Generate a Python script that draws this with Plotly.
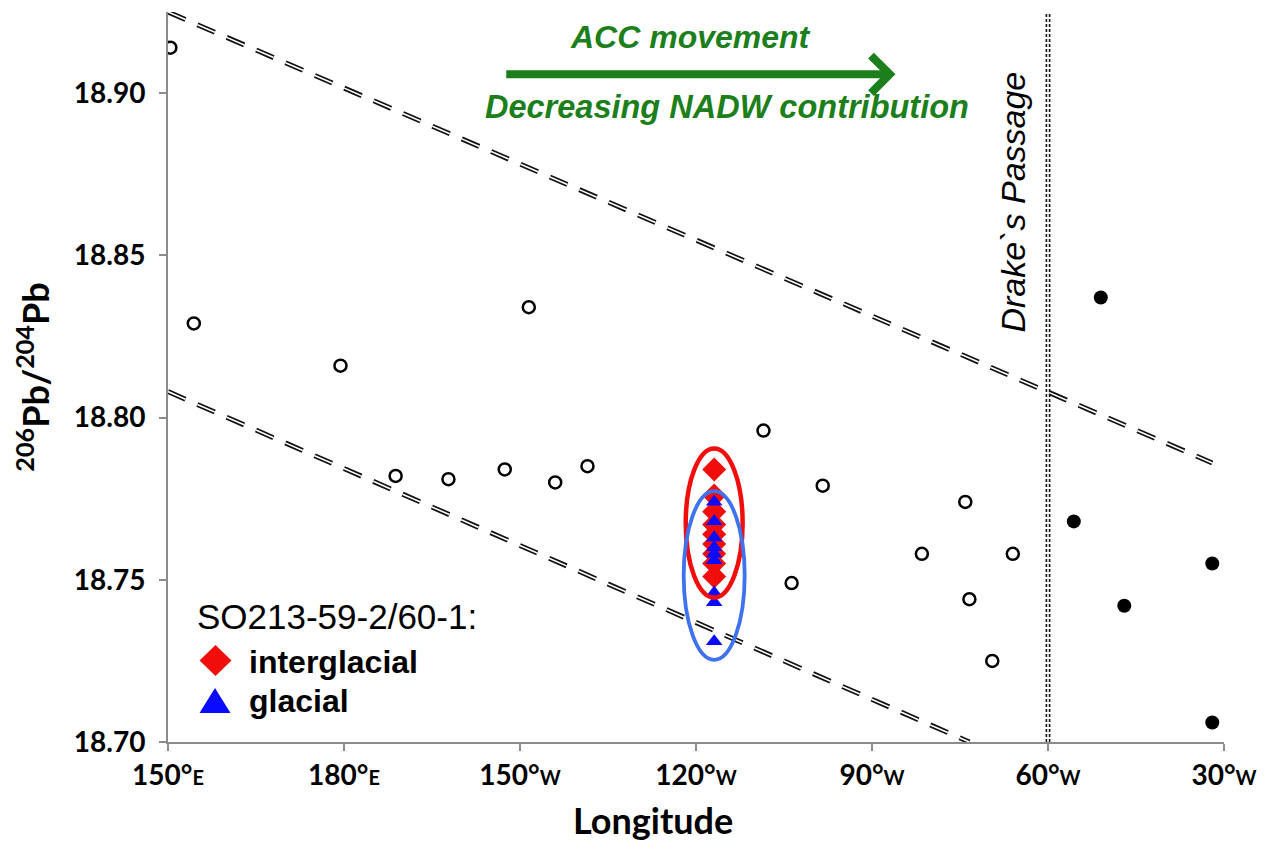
import plotly.graph_objects as go

# --- data -----------------------------------------------------------------
# Longitude as continuous degrees east (150°E = 150, 180° = 180, 30°W = 330)
pacific_lon = [150.4, 154.4, 179.4, 211.5, 188.8, 197.8, 207.4, 216.0, 221.5,
               251.5, 261.6, 256.3, 285.9, 278.5, 294.0, 286.6, 290.5]
pacific_pb = [18.914, 18.829, 18.816, 18.834, 18.782, 18.781, 18.784, 18.780, 18.785,
              18.796, 18.779, 18.749, 18.774, 18.758, 18.758, 18.744, 18.725]

atlantic_lon = [304.4, 328.0, 313.0, 328.0, 309.0]
atlantic_pb = [18.768, 18.755, 18.742, 18.706, 18.837]

core_lon = 243.1  # SO213-59-2 / 60-1 site (~117°W)
interglacial_pb = [18.784, 18.776, 18.771, 18.767, 18.764, 18.761, 18.758, 18.755, 18.751]
glacial_pb = [18.774, 18.768, 18.763, 18.760, 18.758, 18.756, 18.746, 18.743, 18.731]

upper_bound_lon = [150, 328]
upper_bound_pb = [18.925, 18.786]
lower_bound_lon = [150, 286.6]
lower_bound_pb = [18.808, 18.700]

drake_lon = 300

x_tickvals = [150, 180, 210, 240, 270, 300, 330]
x_ticknum = ["150°", "180°", "150°", "120°", "90°", "60°", "30°"]
x_tickhemi = ["E", "E", "W", "W", "W", "W", "W"]
y_tickvals = [18.70, 18.75, 18.80, 18.85, 18.90]

# --- style ---------------------------------------------------------------
GREEN = "#1c7f1c"
RED = "#f20d0d"
BLUE = "#0a0aff"
BLUE_RING = "#3f72ee"
AXIS_GREY = "#8c8c8c"
TICK_FONT = dict(family="Lato", size=28, color="black", weight="bold")

fig = go.Figure()

# double dashed envelope lines: dark dashed stroke with a thin white core
for lon, pb in [(upper_bound_lon, upper_bound_pb), (lower_bound_lon, lower_bound_pb)]:
    fig.add_trace(go.Scatter(x=lon, y=pb, mode="lines", hoverinfo="skip",
                             line=dict(color="#111111", width=5, dash="19px,13px"),
                             showlegend=False))
    fig.add_trace(go.Scatter(x=lon, y=pb, mode="lines", hoverinfo="skip",
                             line=dict(color="white", width=1.6, dash="19px,13px"),
                             showlegend=False))

fig.add_trace(go.Scatter(x=pacific_lon, y=pacific_pb, mode="markers", name="Pacific",
                         marker=dict(symbol="circle-open", size=12, color="black",
                                     line=dict(width=2.5, color="black")),
                         showlegend=False))
fig.add_trace(go.Scatter(x=atlantic_lon, y=atlantic_pb, mode="markers", name="Atlantic",
                         marker=dict(symbol="circle", size=14, color="black"),
                         showlegend=False))
fig.add_trace(go.Scatter(x=[core_lon] * len(interglacial_pb), y=interglacial_pb,
                         mode="markers", name="interglacial",
                         marker=dict(symbol="diamond", size=18.5, color=RED),
                         showlegend=False))
fig.add_trace(go.Scatter(x=[core_lon] * len(glacial_pb), y=glacial_pb,
                         mode="markers", name="glacial",
                         marker=dict(symbol="triangle-up", size=14.5, color=BLUE),
                         showlegend=False))

shapes = []
# Drake Passage: two dotted rules
shapes.append(dict(type="line", xref="x", yref="paper", x0=drake_lon, x1=drake_lon,
                   y0=0, y1=1, line=dict(color="#111111", width=4.8, dash="3px,2px"),
                   layer="above"))
shapes.append(dict(type="line", xref="x", yref="paper", x0=drake_lon, x1=drake_lon,
                   y0=0, y1=1, line=dict(color="white", width=1.6), layer="above"))

# rings around the interglacial and glacial groups
def ring(values, half_lon, pad_lo, pad_hi, color, width):
    return dict(type="circle", xref="x", yref="y",
                x0=core_lon - half_lon, x1=core_lon + half_lon,
                y0=min(values) - pad_lo, y1=max(values) + pad_hi,
                line=dict(color=color, width=width), layer="above")

shapes.append(ring(interglacial_pb, 4.85, 0.0065, 0.0065, RED, 4.5))
shapes.append(ring(glacial_pb, 5.2, 0.0057, 0.0033, BLUE_RING, 3.8))

# legend keys
shapes.append(dict(type="path", xref="paper", yref="paper",
                   xsizemode="pixel", ysizemode="pixel", xanchor=0.0450, yanchor=0.1116,
                   path="M -16,0 L 0,15.5 L 16,0 L 0,-15.5 Z",
                   fillcolor=RED, line=dict(width=0)))
shapes.append(dict(type="path", xref="paper", yref="paper",
                   xsizemode="pixel", ysizemode="pixel", xanchor=0.0445, yanchor=0.0568,
                   path="M -15.5,-12.5 L 15.5,-12.5 L 0,12.5 Z",
                   fillcolor=BLUE, line=dict(width=0)))

annotations = [
    dict(text="SO213-59-2/60-1:", xref="paper", yref="paper", x=0.0255, y=0.1726,
         xanchor="left", yanchor="middle", showarrow=False,
         font=dict(family="Liberation Sans", size=35, color="black")),
    dict(text="<b>interglacial</b>", xref="paper", yref="paper", x=0.0750, y=0.1096,
         xanchor="left", yanchor="middle", showarrow=False,
         font=dict(family="Liberation Sans", size=32, color="black")),
    dict(text="<b>glacial</b>", xref="paper", yref="paper", x=0.0750, y=0.0568,
         xanchor="left", yanchor="middle", showarrow=False,
         font=dict(family="Liberation Sans", size=32, color="black")),
    # ACC arrow
    dict(text="", x=274.0, y=18.9058, ax=207.4, ay=18.9058, xref="x", yref="y",
         axref="x", ayref="y", showarrow=True, arrowhead=4, arrowsize=0.9,
         arrowwidth=8, arrowcolor=GREEN),
    dict(text="<b><i>ACC movement</i></b>", x=239.0, y=18.9174, xref="x", yref="y",
         showarrow=False, xanchor="center", yanchor="middle",
         font=dict(family="Liberation Sans", size=32, color=GREEN)),
    dict(text="<b><i>Decreasing NADW contribution</i></b>", x=245.3, y=18.8958,
         xref="x", yref="y", showarrow=False, xanchor="center", yanchor="middle",
         font=dict(family="Liberation Sans", size=32.5, color=GREEN)),
    dict(text="<i>Drake`s Passage</i>", x=294.1, y=18.8664, xref="x", yref="y",
         showarrow=False, textangle=-90, xanchor="center", yanchor="middle",
         font=dict(family="Liberation Sans", size=34, color="black")),
    # x-axis title
    dict(text="<b>Longitude</b>", xref="paper", yref="paper", x=0.459, y=-0.107,
         xanchor="center", yanchor="middle", showarrow=False,
         font=dict(family="Lato", size=36, color="black")),
]

x_ticktext = [f"{n}<span style='font-size:20px'>{h}</span>"
              for n, h in zip(x_ticknum, x_tickhemi)]

fig.update_layout(
    width=1277, height=841,
    margin=dict(l=168, r=53, t=12, b=99),
    paper_bgcolor="white", plot_bgcolor="white",
    shapes=shapes, annotations=annotations,
    showlegend=False,
    xaxis=dict(range=[150, 330], tickvals=x_tickvals, ticktext=x_ticktext,
               showgrid=False, zeroline=False, showline=True, linecolor=AXIS_GREY,
               linewidth=2, ticks="outside", ticklen=7, tickwidth=2, tickcolor=AXIS_GREY,
               tickfont=TICK_FONT),
    yaxis=dict(range=[18.70, 18.925], tickvals=y_tickvals, tickformat=".2f",
               showgrid=False, zeroline=False, showline=True, linecolor=AXIS_GREY,
               linewidth=2, ticks="outside", ticklen=7, tickwidth=2, tickcolor=AXIS_GREY,
               tickfont=TICK_FONT, ticklabelstandoff=8,
               title=dict(text="<sup>206</sup>Pb/<sup>204</sup>Pb", standoff=13,
                          font=dict(family="Lato", size=36, color="black", weight="bold"))),
)

fig.write_html("out.html")
